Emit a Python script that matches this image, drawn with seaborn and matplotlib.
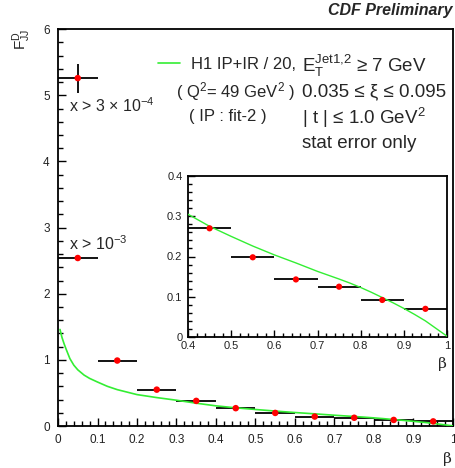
import numpy as np
import pandas as pd
import matplotlib
matplotlib.use("Agg")
import matplotlib.pyplot as plt
import seaborn as sns
from matplotlib.ticker import MultipleLocator, FuncFormatter

sns.set_theme(style="white")
plt.rcParams['font.family'] = ['Liberation Sans', 'DejaVu Sans']
plt.rcParams['mathtext.fontset'] = 'custom'
plt.rcParams['mathtext.rm'] = 'Liberation Sans'
plt.rcParams['mathtext.it'] = 'Liberation Sans'

# data
beta = [0.15, 0.25, 0.35, 0.45, 0.55, 0.65, 0.75, 0.85, 0.95]
fjj = [0.99, 0.55, 0.38, 0.27, 0.198, 0.143, 0.125, 0.092, 0.070]
fjj_err = [0.02, 0.012, 0.008, 0.006, 0.005, 0.004, 0.003, 0.003, 0.003]
beta_lowx = [0.05, 0.05]
fjj_lowx = [5.26, 2.54]
fjj_lowx_err = [0.22, 0.03]
bin_half = 0.05

curve_beta = [0.005, 0.01, 0.015, 0.02, 0.03, 0.04, 0.05, 0.066, 0.08, 0.1, 0.125, 0.15,
              0.2, 0.25, 0.3, 0.35, 0.4, 0.45, 0.5, 0.55, 0.6, 0.65, 0.7, 0.75, 0.775,
              0.8, 0.825, 0.85, 0.875, 0.9, 0.925, 0.95, 0.975, 1.0]
curve_val = [1.46, 1.34, 1.25, 1.17, 1.02, 0.92, 0.85, 0.77, 0.72, 0.665, 0.6, 0.55,
             0.475, 0.43, 0.39, 0.345, 0.305, 0.275, 0.25, 0.226, 0.204, 0.184, 0.163,
             0.144, 0.134, 0.123, 0.111, 0.098, 0.085, 0.071, 0.056, 0.040, 0.021, 0.002]

df_pts = pd.DataFrame({"beta": beta, "F": fjj})
df_low = pd.DataFrame({"beta": beta_lowx, "F": fjj_lowx})
df_curve = pd.DataFrame({"beta": curve_beta, "F": curve_val})

fig = plt.figure(figsize=(4.55, 4.68), dpi=100)
ax = fig.add_axes([0.1275, 0.0897, 0.868, 0.848])

def style_axes(a, fs):
    for s in a.spines.values():
        s.set_linewidth(1.3)
        s.set_color("black")
    a.tick_params(which="both", direction="in", top=False, right=False,
                  labelsize=fs, colors="black", width=1.0, pad=6)
    a.tick_params(which="major", length=6)
    a.tick_params(which="minor", length=3.5)
    a.tick_params(axis="x", which="both", bottom=True)
    a.tick_params(axis="y", which="both", left=True)
    a.tick_params(labelcolor="#222222")

def fmt(v, pos):
    if abs(v - round(v)) < 1e-9:
        return "%d" % round(v)
    return ("%.1f" % v)

# main
ax.errorbar(beta + beta_lowx, fjj + fjj_lowx, xerr=bin_half,
            yerr=fjj_err + fjj_lowx_err, fmt="none", ecolor="black", elinewidth=1.3,
            capsize=0, zorder=2)
sns.lineplot(data=df_curve, x="beta", y="F", ax=ax, color="#33ee33", lw=1.2,
             label="H1 IP+IR / 20,", zorder=3)
sns.scatterplot(data=df_pts, x="beta", y="F", ax=ax, color="red", s=22,
                edgecolor="none", zorder=4)
sns.scatterplot(data=df_low, x="beta", y="F", ax=ax, color="red", s=22,
                edgecolor="none", zorder=4)
ax.set_xlim(0, 1)
ax.set_ylim(0, 6)
ax.xaxis.set_major_locator(MultipleLocator(0.1))
ax.xaxis.set_minor_locator(MultipleLocator(0.02))
ax.yaxis.set_major_locator(MultipleLocator(1))
ax.yaxis.set_minor_locator(MultipleLocator(0.2))
ax.xaxis.set_major_formatter(FuncFormatter(fmt))
ax.yaxis.set_major_formatter(FuncFormatter(fmt))
style_axes(ax, 8.5)
ax.set_xlabel("")
ax.set_ylabel("")
leg = ax.legend(loc="center left", bbox_to_anchor=(0.233, 1 - (64 - 29) / 397), frameon=False,
                fontsize=12, handlelength=1.3, handletextpad=0.65, borderpad=0)

ax.text(0.0275, 4.85, r"x > 3 $\times$ 10$^{-4}$", fontsize=11.5, ha="left", va="center")
ax.text(0.0275, 2.75, r"x > 10$^{-3}$", fontsize=11.5, ha="left", va="center")

fsl = 12
fs = 13.5
fig.text(176/455, 1 - 92/468, r"( Q$^{2}$= 49 GeV$^{2}$ )", fontsize=fsl, ha="left", va="center")
fig.text(189/455, 1 - 117/468, "( IP : fit-2 )", fontsize=fsl, ha="left", va="center")
fig.text(302/455, 1 - 66/468, r"E$_{\mathrm{T}}^{\mathrm{Jet1{,}2}}$ ≥ 7 GeV", fontsize=fs, ha="left", va="center")
fig.text(302/455, 1 - 92/468, "0.035 ≤ ξ ≤ 0.095", fontsize=fs, ha="left", va="center")
fig.text(302/455, 1 - 118/468, r"| t | ≤ 1.0 GeV$^{2}$", fontsize=fs, ha="left", va="center")
fig.text(302/455, 1 - 143/468, "stat error only", fontsize=fs, ha="left", va="center")

fig.text(452/455, 1 - 11/468, "CDF Preliminary", fontsize=11.5, fontweight="bold",
         fontstyle="italic", ha="right", va="center")
fig.text(22/455, 1 - 39/468, r"F$_{\mathrm{JJ}}^{\mathrm{D}}$", fontsize=11, rotation=90,
         ha="center", va="center")
fig.text(452/455, 1 - 459/468, "β", fontsize=11, ha="right", va="center", family="DejaVu Serif")

# inset
ins = fig.add_axes([188/455, 1 - 337/468, 259/455, 161/468])
ins.set_facecolor("white")
ins.errorbar(beta, fjj, xerr=bin_half, yerr=fjj_err, fmt="none", ecolor="black",
             elinewidth=1.3, capsize=0, zorder=2)
sns.lineplot(data=df_curve, x="beta", y="F", ax=ins, color="#33ee33", lw=1.0, zorder=3)
sns.scatterplot(data=df_pts, x="beta", y="F", ax=ins, color="red", s=20,
                edgecolor="none", zorder=4)
ins.set_xlim(0.4, 1)
ins.set_ylim(0, 0.4)
ins.xaxis.set_major_locator(MultipleLocator(0.1))
ins.xaxis.set_minor_locator(MultipleLocator(0.02))
ins.yaxis.set_major_locator(MultipleLocator(0.1))
ins.yaxis.set_minor_locator(MultipleLocator(0.02))
ins.xaxis.set_major_formatter(FuncFormatter(fmt))
ins.yaxis.set_major_formatter(FuncFormatter(fmt))
style_axes(ins, 8)
ins.tick_params(which="major", length=5)
ins.tick_params(which="minor", length=3)
ins.tick_params(axis="x", pad=3)
ins.tick_params(axis="y", pad=4)
ins.set_xlabel("")
ins.set_ylabel("")
fig.text(447/455, 1 - 364/468, "β", fontsize=11, ha="right", va="center", family="DejaVu Serif")

fig.savefig("out.png", dpi=100)
